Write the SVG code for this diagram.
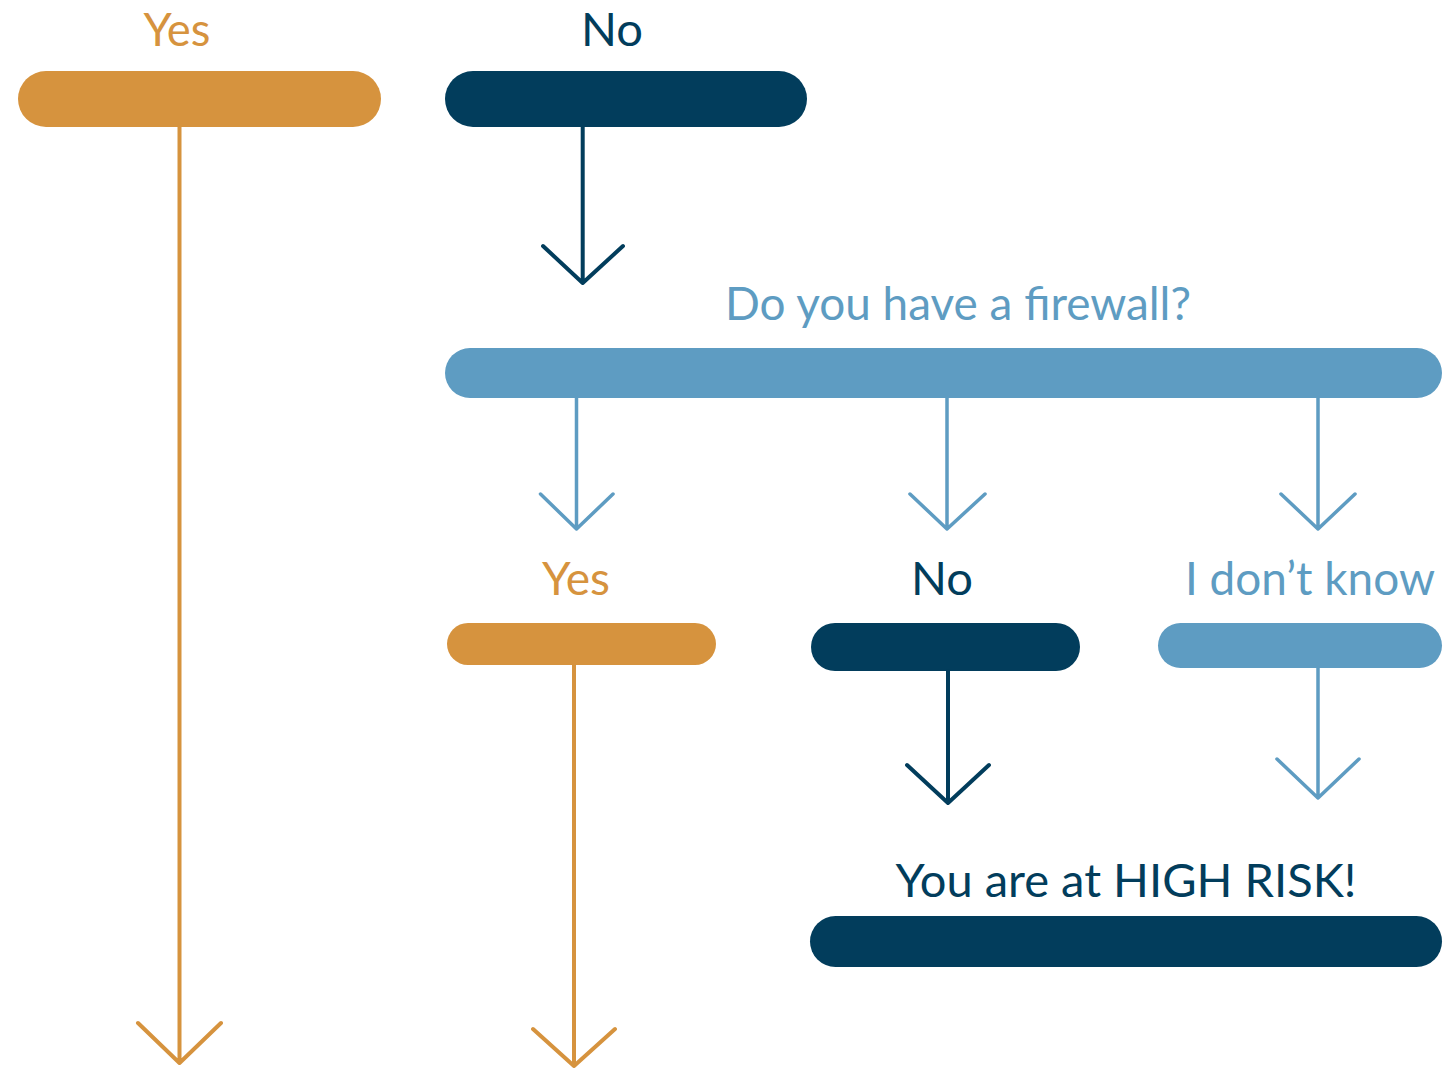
<svg xmlns="http://www.w3.org/2000/svg" width="1443" height="1068" viewBox="0 0 1443 1068">
<style>
.t{font-family:Lato,"Open Sans","Liberation Sans",sans-serif;font-size:47px;text-anchor:middle}
.or{fill:#D6933E}.nv{fill:#023D5C}.lb{fill:#5E9CC2}
.c{fill:none;stroke-linecap:round;stroke-linejoin:round}
.co{stroke:#D6933E;stroke-width:4}.cn{stroke:#023D5C;stroke-width:4}.cl{stroke:#5E9CC2;stroke-width:3.5}
</style>
<rect width="1443" height="1068" fill="#FFFFFF"/>
<g id="node-yes1">
<text class="t or" x="177" y="46" textLength="67" lengthAdjust="spacingAndGlyphs">Yes</text>
<rect class="or" x="18" y="71" width="363" height="56" rx="28"/>
</g>
<g id="node-no1">
<text class="t nv" x="612" y="46" textLength="62" lengthAdjust="spacingAndGlyphs">No</text>
<rect class="nv" x="445" y="71" width="362" height="56" rx="28"/>
</g>
<g id="node-firewall">
<text class="t lb" x="958" y="320" textLength="466" lengthAdjust="spacingAndGlyphs">Do you have a firewall?</text>
<rect class="lb" x="445" y="348" width="997" height="50" rx="25"/>
</g>
<g id="node-yes2">
<text class="t or" x="576" y="595" textLength="68" lengthAdjust="spacingAndGlyphs">Yes</text>
<rect class="or" x="447" y="623" width="269" height="42" rx="21"/>
</g>
<g id="node-no2">
<text class="t nv" x="942" y="595" textLength="62" lengthAdjust="spacingAndGlyphs">No</text>
<rect class="nv" x="811" y="623" width="269" height="48" rx="24"/>
</g>
<g id="node-idk">
<text class="t lb" x="1310" y="595" textLength="250" lengthAdjust="spacingAndGlyphs">I don’t know</text>
<rect class="lb" x="1158" y="623" width="284" height="45" rx="22.5"/>
</g>
<g id="node-highrisk">
<text class="t nv" x="1126" y="897" font-size="48" textLength="461" lengthAdjust="spacingAndGlyphs">You are at HIGH RISK!</text>
<rect class="nv" x="810" y="916" width="632" height="51" rx="25.5"/>
</g>
<g id="connectors">
<path class="c co" d="M179.5 127V1063M138 1023L179.5 1063L221 1023"/>
<path class="c cn" d="M582.7 127V283M543 246L582.7 283L623 246"/>
<path class="c cl" d="M576.5 398V529M540.5 494L576.5 529L613 494"/>
<path class="c cl" d="M947 398V529M910 494L947 529L985 494"/>
<path class="c cl" d="M1318 398V529M1281 494L1318 529L1355 494"/>
<path class="c co" d="M574 665V1066M533 1029L574 1066L615 1029"/>
<path class="c cn" d="M948 671V803M907 765L948 803L989 765"/>
<path class="c cl" d="M1318 668V798M1277 759L1318 798L1359 759"/>
</g>
</svg>
